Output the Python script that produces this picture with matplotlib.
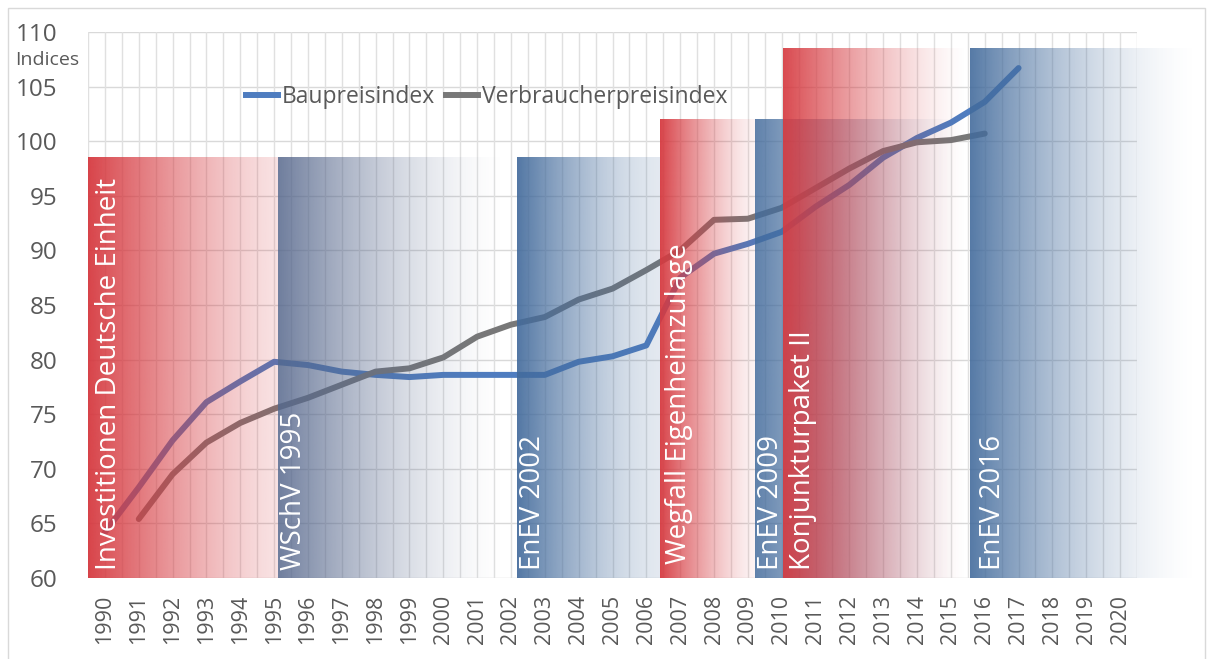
import numpy as np
import matplotlib
matplotlib.use("Agg")
import matplotlib.pyplot as plt
from matplotlib.lines import Line2D
from matplotlib.patches import Rectangle
from matplotlib.colors import to_rgb

plt.rcParams['font.family'] = ['Open Sans', 'DejaVu Sans']

# ---- data ----
years = [str(y) for y in range(1990, 2021)]
bau_years = list(range(1990, 2018))
baupreis = [64.2, 68.3, 72.6, 76.1, 78.0, 79.8, 79.5, 78.9, 78.6, 78.4, 78.6, 78.6,
            78.6, 78.6, 79.8, 80.3, 81.3, 87.5, 89.7, 90.6, 91.7, 94.0, 96.0, 98.5,
            100.3, 101.7, 103.6, 106.7]
vpi_years = list(range(1991, 2017))
verbraucher = [65.4, 69.5, 72.4, 74.2, 75.5, 76.5, 77.7, 78.9, 79.2, 80.2, 82.1, 83.2,
               83.9, 85.5, 86.5, 88.2, 90.0, 92.8, 92.9, 93.9, 95.7, 97.5, 99.1, 99.9,
               100.1, 100.7]

# event bands: label, start, end (category units), top value
band_labels = ["Investitionen Deutsche Einheit", "WSchV 1995", "EnEV 2002",
               "Wegfall Eigenheimzulage", "EnEV 2009", "Konjunkturpaket II", "EnEV 2016"]
band_start = [-0.5, 5.11, 12.18, 16.4, 19.21, 20.04, 25.56]
band_end = [5.11, 11.9, 16.4, 19.21, 25.3, 25.5, 32.4]
band_top = [98.5, 98.5, 98.5, 102.0, 102.0, 108.5, 108.5]
band_text_x = [0.12, 5.58, 12.64, 16.97, 19.67, 20.62, 26.23]

# ---- styles ----
RED = '#d63a40'
BLUE = '#436b9c'
SLATE = '#56678c'
band_colors = [RED, SLATE, BLUE, RED, BLUE, RED, BLUE]
band_alpha = [(0.95, 0.15), (0.85, 0.0), (0.92, 0.15), (0.95, 0.06), (0.85, 0.0),
              (0.92, 0.0), (0.9, 0.0)]
band_power = [1.3, 1.6, 1.5, 1.4, 1.5, 1.4, 1.7]
band_text_bottom = [60.7, 60.7, 60.7, 61.3, 60.7, 60.7, 60.7]

W, H = 1214, 659
fig = plt.figure(figsize=(W / 100, H / 100), dpi=100)
ax = fig.add_axes([88 / W, 1 - 578 / H, (1137 - 88) / W, (578 - 32) / H])

x_idx = np.arange(len(years))
bau_x = [years.index(str(y)) for y in bau_years]
vpi_x = [years.index(str(y)) for y in vpi_years]

ax.plot(bau_x, baupreis, color='#4f7dc0', lw=4.3, solid_capstyle='round', zorder=2)
ax.plot(vpi_x, verbraucher, color='#787878', lw=4.3, solid_capstyle='round', zorder=2)

# gradient bands
for lab, x0, x1, top, col, (a0, a1), p, tx, tb in zip(band_labels, band_start, band_end,
                                                      band_top, band_colors, band_alpha,
                                                      band_power, band_text_x,
                                                      band_text_bottom):
    n = 256
    t = np.linspace(0, 1, n)
    img = np.zeros((1, n, 4))
    img[..., :3] = to_rgb(col)
    img[0, :, 3] = a1 + (a0 - a1) * (1 - t) ** p
    im = ax.imshow(img, extent=(x0, x1, 60, top), aspect='auto', interpolation='bilinear',
                   zorder=3)
    if x1 > 30.5:
        im.set_clip_on(False)
    ax.text(tx, tb, lab, rotation=90, ha='center', va='bottom', color='white',
            fontsize=20, zorder=5)

ax.set_xlim(-0.5, len(years) - 0.5)
ax.set_ylim(60, 110)
ax.set_yticks(np.arange(60, 111, 5))
ax.set_xticks(x_idx)
ax.set_xticklabels(years, rotation=90)
ax.tick_params(axis='y', length=0, pad=22, labelsize=17.5, labelcolor='#595959')
ax.tick_params(axis='x', length=0, pad=12, labelsize=15.5, labelcolor='#595959')

# grid
for v in np.arange(60, 111, 5):
    ax.axhline(v, color='#d9d9d9', lw=1, zorder=1)
for v in np.arange(-0.5, len(years), 0.5):
    ax.axvline(v, color='#e0e0e0', lw=1, zorder=1)
for s in ax.spines.values():
    s.set_visible(False)

fig.text(47 / W, 1 - 60 / H, "Indices", ha='center', va='center', fontsize=14,
         color='#595959')

handles = [Line2D([], [], color='#4f7dc0', lw=4.3),
           Line2D([], [], color='#787878', lw=4.3)]
leg = ax.legend(handles, ["Baupreisindex", "Verbraucherpreisindex"], ncol=2, frameon=False,
                loc='center', bbox_to_anchor=(0.38, 0.881), fontsize=16.5,
                handlelength=1.4, handletextpad=0.15, columnspacing=0.5)
for t in leg.get_texts():
    t.set_color('#595959')
leg.set_zorder(6)

fig.patches.append(Rectangle((8 / W, -0.01), (W - 9) / W - 8 / W, 1 - 8 / H + 0.01,
                             transform=fig.transFigure, fill=False, edgecolor='#d9d9d9',
                             lw=1))

fig.savefig("out.png", dpi=100)
